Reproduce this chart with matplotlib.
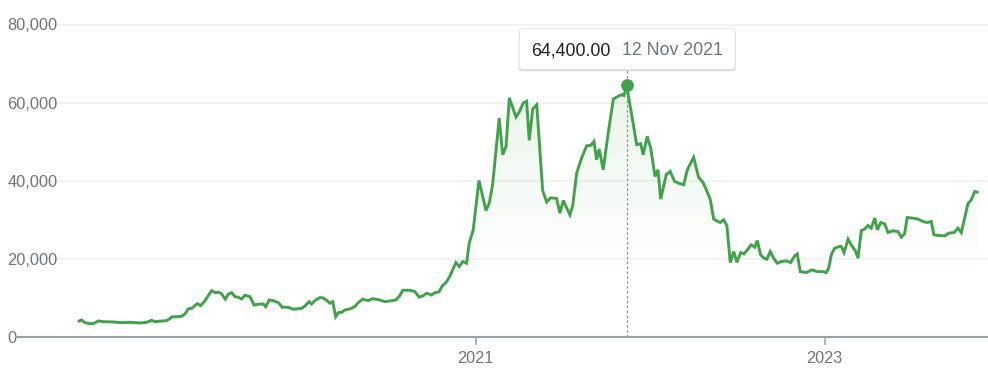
import numpy as np
import matplotlib
matplotlib.use("Agg")
import matplotlib.pyplot as plt
from matplotlib.path import Path
from matplotlib.patches import PathPatch, FancyBboxPatch
import matplotlib.transforms as mtransforms

# ---- data (decimal year, price) ----
years = [
    2018.728, 2018.742, 2018.761, 2018.790, 2018.813, 2018.837, 2018.866, 2018.923,
    2018.962, 2019.019, 2019.076, 2019.115, 2019.143, 2019.162, 2019.229, 2019.248,
    2019.258, 2019.287, 2019.315, 2019.334, 2019.353, 2019.372, 2019.405, 2019.424,
    2019.445, 2019.487, 2019.506, 2019.529, 2019.544, 2019.565, 2019.582, 2019.602,
    2019.621, 2019.640, 2019.659, 2019.678, 2019.707, 2019.730, 2019.754, 2019.783,
    2019.797, 2019.817, 2019.840, 2019.869, 2019.892, 2019.926, 2019.955, 2020.003,
    2020.022, 2020.045, 2020.060, 2020.083, 2020.108, 2020.127, 2020.150, 2020.165,
    2020.181, 2020.198, 2020.213, 2020.232, 2020.251, 2020.280, 2020.308, 2020.327,
    2020.352, 2020.385, 2020.410, 2020.442, 2020.480, 2020.509, 2020.543, 2020.566,
    2020.582, 2020.623, 2020.652, 2020.677, 2020.700, 2020.719, 2020.748, 2020.767,
    2020.790, 2020.809, 2020.834, 2020.853, 2020.887, 2020.906, 2020.926, 2020.948,
    2020.963, 2020.986, 2021.019, 2021.059, 2021.078, 2021.097, 2021.135, 2021.155,
    2021.174, 2021.193, 2021.231, 2021.250, 2021.273, 2021.292, 2021.307, 2021.327,
    2021.350, 2021.384, 2021.407, 2021.430, 2021.464, 2021.483, 2021.502, 2021.540,
    2021.556, 2021.579, 2021.607, 2021.636, 2021.659, 2021.678, 2021.693, 2021.708,
    2021.731, 2021.754, 2021.789, 2021.817, 2021.837, 2021.850, 2021.865, 2021.894,
    2021.923, 2021.946, 2021.960, 2021.983, 2022.003, 2022.028, 2022.045, 2022.060,
    2022.092, 2022.115, 2022.140, 2022.163, 2022.192, 2022.213, 2022.249, 2022.278,
    2022.303, 2022.322, 2022.344, 2022.364, 2022.389, 2022.402, 2022.421, 2022.440,
    2022.459, 2022.479, 2022.497, 2022.519, 2022.538, 2022.560, 2022.579, 2022.599,
    2022.614, 2022.633, 2022.652, 2022.669, 2022.688, 2022.708, 2022.728, 2022.751,
    2022.780, 2022.805, 2022.828, 2022.843, 2022.860, 2022.895, 2022.927, 2022.958,
    2022.990, 2023.009, 2023.023, 2023.038, 2023.057, 2023.086, 2023.095, 2023.111,
    2023.134, 2023.152, 2023.175, 2023.191, 2023.210, 2023.229, 2023.248, 2023.267,
    2023.287, 2023.302, 2023.321, 2023.344, 2023.363, 2023.392, 2023.420, 2023.439,
    2023.458, 2023.473, 2023.506, 2023.535, 2023.564, 2023.588, 2023.611, 2023.626,
    2023.659, 2023.688, 2023.711, 2023.742, 2023.764, 2023.783, 2023.802, 2023.821,
    2023.840, 2023.860, 2023.874,
]
prices = [
    4100, 4360, 3670, 3410, 3500, 4100, 3930, 3850,
    3670, 3760, 3590, 3760, 4270, 3930, 4190, 4700,
    5130, 5200, 5300, 5900, 7180, 7350, 8540, 8030,
    9050, 11870, 11360, 11460, 11030, 9670, 10950, 11360,
    10330, 10180, 9740, 10690, 10330, 8200, 8380, 8460,
    7780, 9490, 9310, 8800, 7610, 7610, 7100, 7350,
    7950, 9050, 8460, 9490, 10080, 10000, 9230, 8640,
    9050, 5200, 6230, 6330, 6920, 7180, 7780, 8800,
    9670, 9310, 9820, 9560, 9050, 9230, 9490, 10590,
    11970, 11970, 11620, 10180, 10590, 11200, 10770, 11360,
    11540, 13080, 14180, 15640, 19050, 18020, 19300, 18890,
    24020, 27430, 40080, 32380, 34280, 38970, 56070, 46660,
    48790, 61200, 56330, 57610, 59920, 60330, 50330, 58380,
    59480, 37510, 34540, 35640, 35460, 31710, 34940, 31280,
    33590, 41970, 45820, 48970, 49050, 50080, 45380, 48130,
    42820, 50510, 60940, 61620, 62050, 61790, 64400, 56920,
    49230, 49480, 46660, 51350, 48380, 41100, 42820, 35300,
    41540, 42390, 39820, 39390, 38970, 42820, 45980, 40850,
    39560, 37690, 35300, 30180, 29560, 29310, 30000, 28460,
    19050, 21870, 19150, 21620, 21280, 22490, 23590, 23000,
    24690, 21030, 20180, 19920, 21870, 20180, 18890, 19310,
    19490, 19050, 20770, 21280, 16740, 16490, 17180, 16740,
    16740, 16490, 17610, 21030, 22740, 23160, 23160, 21620,
    25040, 23590, 22130, 20180, 27250, 27610, 28540, 27870,
    30430, 27430, 29310, 28970, 26740, 27180, 27000, 25560,
    26410, 30590, 30430, 30180, 29560, 29310, 29560, 26150,
    25970, 25900, 26580, 26740, 27870, 26740, 30430, 34100,
    35130, 37250, 37100,
]
y_ticks = [0, 20000, 40000, 60000, 80000]
x_ticks = [2021, 2023]
x_tick_labels = ["2021", "2023"]
peak_date_label = "12 Nov 2021"

x = np.array(years)
y = np.array(prices, dtype=float)

W, H = 988, 379
plt.rcParams["font.family"] = ["Liberation Sans", "DejaVu Sans"]
fig = plt.figure(figsize=(W / 100, H / 100), dpi=100)

ax_left, ax_right, ax_top, ax_bottom = 16, 988, 24.5, 337
ax = fig.add_axes([ax_left / W, 1 - ax_bottom / H, (ax_right - ax_left) / W,
                   (ax_bottom - ax_top) / H])

green = "#41a24b"
axis_grey = "#9aa0a6"
label_grey = "#70757a"

ax.set_xlim(2018.366, 2023.936)
ax.set_ylim(0, 80000)

# gridlines (start after the labels)
gx0 = (57 - ax_left) / (ax_right - ax_left)
for t in y_ticks[1:]:
    ax.axhline(t, xmin=gx0, xmax=1, color="#f3f3f3", lw=1.4, zorder=0, clip_on=False)

# gradient fill under line
verts = np.column_stack([np.r_[x[0], x, x[-1]], np.r_[0, y, 0]])
clip = PathPatch(Path(verts), facecolor="none", edgecolor="none")
ax.add_patch(clip)
ny = 400
vals = np.linspace(0, 80000, ny)
alpha = np.clip((vals - 15000) / (64400 - 15000), 0, 1) * 0.11
rgba = np.zeros((ny, 2, 4))
rgba[..., 0] = 67 / 255
rgba[..., 1] = 160 / 255
rgba[..., 2] = 71 / 255
rgba[..., 3] = alpha[:, None]
im = ax.imshow(rgba, extent=[x.min(), x.max(), 0, 80000], origin="lower",
               aspect="auto", zorder=1, interpolation="bilinear")
im.set_clip_path(clip)

# peak
ipk = int(np.argmax(y))
px, py = x[ipk], y[ipk]
tip_bottom_val = (ax_bottom - 69.3) / (ax_bottom - ax_top) * 80000
ax.plot([px, px], [0, tip_bottom_val], color="#80868b", lw=0.8,
        linestyle=(0, (2.2, 2.2)), zorder=2, clip_on=False)

ax.plot(x, y, color=green, lw=2.1, zorder=3, solid_joinstyle="miter")
ax.plot([px], [py], "o", ms=8.2, color=green, zorder=4)

# axes styling
for s in ["top", "right", "left"]:
    ax.spines[s].set_visible(False)
ax.spines["bottom"].set_color(axis_grey)
ax.spines["bottom"].set_linewidth(1.5)
ax.set_xticks(x_ticks)
ax.set_xticklabels(x_tick_labels)
ax.tick_params(axis="x", direction="out", length=6, width=1.1, color=axis_grey,
               labelcolor=label_grey, labelsize=11.7, pad=4)
ax.set_yticks(y_ticks)
ax.set_yticklabels([f"{v:,}" for v in y_ticks])
ax.tick_params(axis="y", length=0, pad=6.3, labelcolor=label_grey, labelsize=11.8)
for lbl in ax.get_yticklabels():
    lbl.set_horizontalalignment("left")

# tooltip (pixel coordinates, origin top-left converted)
ident = mtransforms.IdentityTransform()
bx0, bx1, by0, by1 = 519.3, 735.0, 28.3, 69.3
for off, a in [(2.5, 0.06), (1.5, 0.08), (0.8, 0.10)]:
    sh = FancyBboxPatch((bx0 - off * 0.3, H - by1 - off), bx1 - bx0 + off * 0.6, by1 - by0,
                        boxstyle="round,pad=0,rounding_size=3", transform=ident,
                        facecolor="black", edgecolor="none", alpha=a, zorder=9)
    fig.add_artist(sh)
box = FancyBboxPatch((bx0, H - by1), bx1 - bx0, by1 - by0,
                     boxstyle="round,pad=0,rounding_size=3", transform=ident,
                     facecolor="white", edgecolor="#e6e6e6", lw=0.6, zorder=10)
fig.add_artist(box)
fig.text(530.7 / W, 1 - 55.0 / H, f"{py:,.2f}", color="#202124", fontsize=12.8,
         ha="left", va="baseline", zorder=11)
fig.text(621.7 / W, 1 - 55.0 / H, peak_date_label, color=label_grey, fontsize=12.8,
         ha="left", va="baseline", zorder=11)

fig.savefig("out.png", dpi=100)
